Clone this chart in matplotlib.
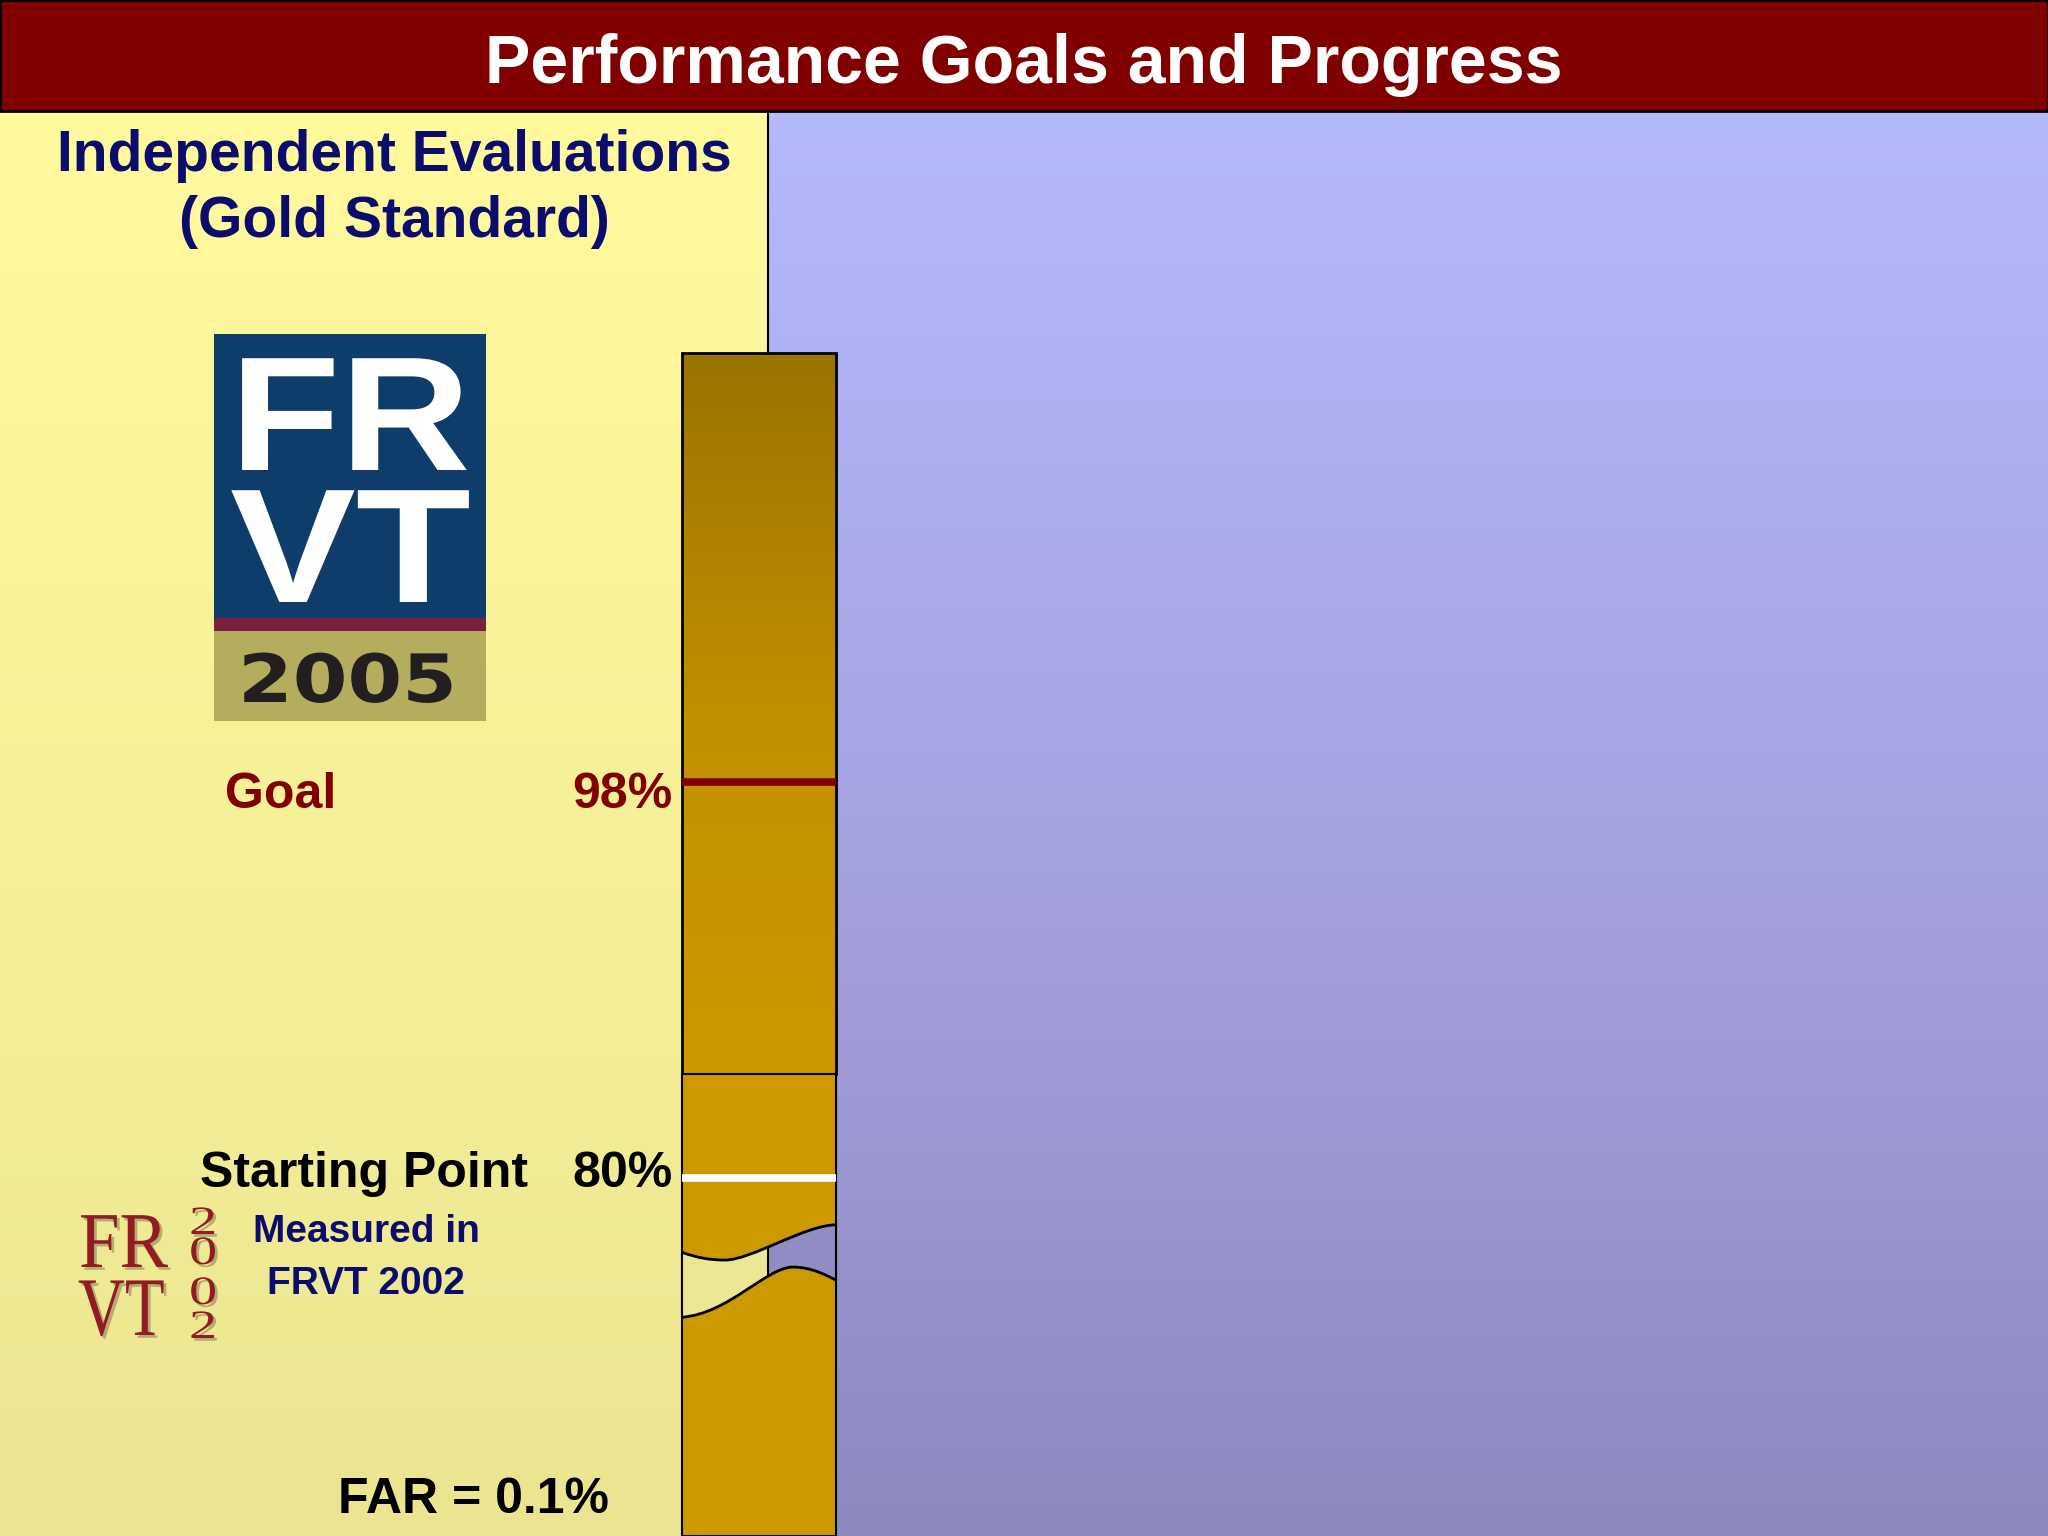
import matplotlib.pyplot as plt
import numpy as np
from matplotlib.colors import LinearSegmentedColormap
from matplotlib.patches import Rectangle, PathPatch
from matplotlib.path import Path
from matplotlib.transforms import Affine2D
import matplotlib.patheffects as pe

plt.rcParams['font.family'] = ['Liberation Sans', 'DejaVu Sans']

# values shown on the slide
marker_labels = ['Goal', 'Starting Point']
marker_values = [98, 80]
marker_pct = ['98%', '80%']
label_colors = ['#800000', 'black']
line_colors = ['#800000', 'white']
far_value = 0.1

# visible extent of the (broken) percentage bar
bar_floor, bar_split, bar_top = 63.7, 84.7, 117.5


class Stretch(pe.AbstractPathEffect):
    """widen/narrow glyphs around the text's left baseline"""
    def __init__(self, sx, sy=1.0, inner=None):
        super().__init__()
        self.sx, self.sy, self.inner = sx, sy, inner

    def draw_path(self, renderer, gc, tpath, affine, rgbFace=None):
        affine = Affine2D().scale(self.sx, self.sy) + affine
        if self.inner is None:
            renderer.draw_path(gc, tpath, affine, rgbFace)
        else:
            self.inner.draw_path(renderer, gc, tpath, affine, rgbFace)


W, H = 2048, 1536
fig = plt.figure(figsize=(W / 100, H / 100), dpi=100)

# slide background in pixel coordinates
bg = fig.add_axes([0, 0, 1, 1])
bg.set_xlim(0, W)
bg.set_ylim(H, 0)
bg.axis('off')

grad = np.linspace(0, 1, 256).reshape(-1, 1)
left_cmap = LinearSegmentedColormap.from_list('l', ['#fffa9e', '#f6f198', '#ebe592'])
right_cmap = LinearSegmentedColormap.from_list('r', ['#b4b9fc', '#a6a3e1', '#8c89bf'])
bg.imshow(grad, extent=[0, 768, H, 111], aspect='auto', cmap=left_cmap, zorder=0)
bg.imshow(grad, extent=[768, W, H, 111], aspect='auto', cmap=right_cmap, zorder=0)
bg.plot([768, 768], [111, H], color='black', lw=1.5, zorder=1)

# title bar
bg.add_patch(Rectangle((0, 0), W, 111, facecolor='#800000', edgecolor='black', lw=2, zorder=2))
bg.text(1024, 65, 'Performance Goals and Progress', color='white', fontsize=49,
        fontweight='bold', ha='center', va='center', zorder=3)

bg.text(394, 156, 'Independent Evaluations', color='#0c0c6c', fontsize=41,
        fontweight='bold', ha='center', va='center', zorder=3)
bg.text(394, 222, '(Gold Standard)', color='#0c0c6c', fontsize=41,
        fontweight='bold', ha='center', va='center', zorder=3)

# FRVT 2005 logo
k = 117 / 80
bg.add_patch(Rectangle((214, 334), 272, 284, facecolor='#0e3d6b', zorder=2))
bg.add_patch(Rectangle((214, 618), 272, 13, facecolor='#7a1f3d', zorder=2))
bg.add_patch(Rectangle((214, 631), 272, 90, facecolor='#b5ad5e', zorder=2))
bg.text(230, 470, 'FR', color='white', fontsize=80, fontweight='bold', ha='left',
        va='baseline', path_effects=[Stretch(1.11 * k, k)], zorder=3)
bg.text(230, 602, 'VT', color='white', fontsize=80, fontweight='bold', ha='left',
        va='baseline', path_effects=[Stretch(1.16 * k, k)], zorder=3)
bg.text(238, 702, '2005', color='#231f20', fontsize=48, fontweight='bold', family='DejaVu Sans',
        ha='left', va='baseline', path_effects=[Stretch(1.18)], zorder=3)


# FRVT 2002 logo
def serif_fx(sx, sy=1.0):
    return [Stretch(sx, sy, inner=pe.SimplePatchShadow(offset=(2, -2), shadow_rgbFace='#8a8560', alpha=0.6)),
            Stretch(sx, sy)]


bg.text(79, 1267, 'FR', color='#931c22', fontsize=42, family='Liberation Serif',
        ha='left', va='baseline', path_effects=serif_fx(0.92 * 57 / 42, 57 / 42), zorder=3)
bg.text(78, 1335, 'VT', color='#931c22', fontsize=42, family='Liberation Serif',
        ha='left', va='baseline', path_effects=serif_fx(0.78 * 60 / 42, 60 / 42), zorder=3)
kd = 29 / 18
for d, y in zip('2002', [1234, 1264, 1304, 1338]):
    bg.text(189, y, d, color='#931c22', fontsize=18, family='Liberation Serif',
            ha='left', va='baseline', path_effects=serif_fx(1.4 * kd, kd), zorder=3)

bg.text(366, 1232, 'Measured in', color='#0c0c6c', fontsize=28, fontweight='bold',
        ha='center', va='center', zorder=3)
bg.text(366, 1284, 'FRVT 2002', color='#0c0c6c', fontsize=28, fontweight='bold',
        ha='center', va='center', zorder=3)
bg.text(474, 1500, f'FAR = {far_value}%', color='black', fontsize=36, fontweight='bold',
        ha='center', va='center', zorder=3)

# the bar
bax = fig.add_axes([682 / W, 0, 154 / W, (H - 353) / H])
bax.set_xlim(-0.5, 0.5)
bax.set_ylim(bar_floor, bar_top)
bax.axis('off')

bar_cmap = LinearSegmentedColormap.from_list('b', ['#9a7300', '#c28f00', '#cc9900'])
upper = bax.bar(0, bar_top - bar_split, bottom=bar_split, width=1.0,
                facecolor='#cc9900', edgecolor='none', zorder=1)[0]
im = bax.imshow(grad, extent=[-0.5, 0.5, bar_split, bar_top], aspect='auto',
                cmap=bar_cmap, zorder=1.5)
im.set_clip_path(upper)
bax.bar(0, bar_top - bar_split, bottom=bar_split, width=1.0, facecolor='none',
        edgecolor='black', lw=2, zorder=2, clip_on=False)
bax.bar(0, bar_split - bar_floor, bottom=bar_floor, width=1.0, facecolor='#cc9900',
        edgecolor='black', lw=1.5, zorder=2, clip_on=False)

# axis break drawn across the lower segment
border_x = 0.058
up_verts = [(-0.5, 76.6), (-0.4, 76.35), (-0.32, 76.25), (-0.22, 76.25),
            (-0.05, 76.25), (0.3, 77.85), (0.5, 77.85)]
lo_verts = [(-0.5, 73.65), (-0.2, 73.8), (0.05, 75.93), (0.22, 75.93),
            (0.35, 75.93), (0.45, 75.5), (0.5, 75.34)]
curve_codes = [Path.MOVETO] + [Path.CURVE4] * 6
up_path = Path(up_verts, curve_codes)
lo_path = Path(lo_verts, curve_codes)
gap = Path(up_verts + lo_verts[::-1] + [up_verts[0]],
           curve_codes + [Path.LINETO] + [Path.CURVE4] * 6 + [Path.CLOSEPOLY])

for color, x0, x1 in [('#ece792', -0.5, border_x), ('#8f8dc4', border_x, 0.5)]:
    p = PathPatch(gap, facecolor=color, edgecolor='none', zorder=3)
    bax.add_patch(p)
    p.set_clip_path(Rectangle((x0, 70), x1 - x0, 10, transform=bax.transData))
gap_clip = PathPatch(gap, transform=bax.transData)
bline, = bax.plot([border_x, border_x], [75.0, 77.5], color='black', lw=1.5, zorder=3.5)
bline.set_clip_path(gap_clip)
for pth in (up_path, lo_path):
    bax.add_patch(PathPatch(pth, facecolor='none', edgecolor='black', lw=2, zorder=4, clip_on=False))
bax.plot([-0.5, -0.5], [73.6, 76.7], color='black', lw=1.5, zorder=4, clip_on=False)
bax.plot([0.5, 0.5], [75.3, 77.9], color='black', lw=1.5, zorder=4, clip_on=False)

# goal / start markers
offsets = [-13, 4]
label_dx = [-457, -482]
for lab, val, pct, tc, lc, dy, dx in zip(marker_labels, marker_values, marker_pct,
                                         label_colors, line_colors, offsets, label_dx):
    bax.hlines(val, -0.5, 0.5, color=lc, lw=5.5, zorder=5)
    bax.annotate(pct, xy=(-0.5, val), xytext=(-9, dy), textcoords='offset pixels',
                 ha='right', va='center', fontsize=36, fontweight='bold', color=tc,
                 annotation_clip=False)
    bax.annotate(lab, xy=(-0.5, val), xytext=(dx, dy), textcoords='offset pixels',
                 ha='left', va='center', fontsize=36, fontweight='bold', color=tc,
                 annotation_clip=False)

fig.savefig('out.png', dpi=100)
